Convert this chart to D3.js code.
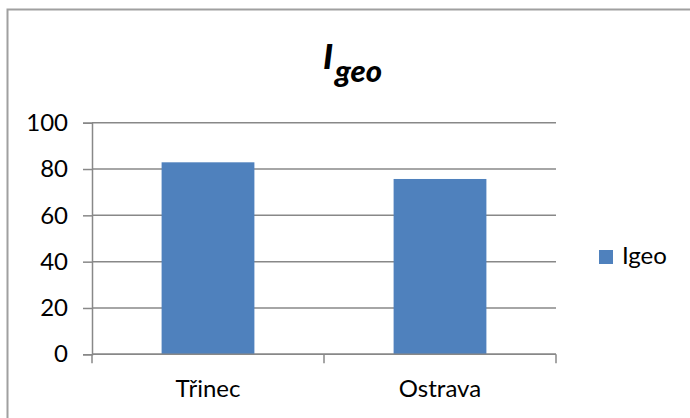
<!DOCTYPE html>
<html>
<head>
<meta charset="utf-8">
<script src="https://cdn.jsdelivr.net/npm/d3@7"></script>
<style>
  html, body { margin: 0; padding: 0; background: #fff; }
  svg { display: block; font-family: Lato, "Open Sans", sans-serif; }
</style>
</head>
<body>
<svg id="chart" width="690" height="418"></svg>
<script>
const categories = ["Třinec", "Ostrava"];
const values = [82.9, 75.7];
const seriesName = "Igeo";
const yTicks = [0, 20, 40, 60, 80, 100];

const svg = d3.select("#chart");
const plot = { left: 92, right: 556, top: 122.7, bottom: 354.3 };
const gray = "#888888";
const barColor = "#4F81BD";
const fontSize = 24;

// outer border
svg.append("rect")
  .attr("x", 7.5).attr("y", 9.5)
  .attr("width", 720).attr("height", 440)
  .attr("fill", "#fff").attr("stroke", "#a0a0a0").attr("stroke-width", 2);

const x = d3.scaleBand().domain(categories).range([plot.left, plot.right]).padding(0);
const y = d3.scaleLinear().domain([0, 100]).range([plot.bottom, plot.top]);

// gridlines
svg.append("g").selectAll("line").data(yTicks).join("line")
  .attr("x1", plot.left).attr("x2", plot.right)
  .attr("y1", d => y(d)).attr("y2", d => y(d))
  .attr("stroke", gray).attr("stroke-width", 1.5);

// y axis
const yAxis = svg.append("g")
  .attr("transform", `translate(${plot.left},0)`)
  .call(d3.axisLeft(y).tickValues(yTicks).tickSize(9).tickPadding(15).tickFormat(d3.format("d")));
yAxis.select(".domain").attr("stroke", gray).attr("stroke-width", 1.5);
yAxis.selectAll(".tick line").attr("stroke", gray).attr("stroke-width", 1.5);
yAxis.selectAll(".tick text").attr("font-size", fontSize).attr("fill", "#000")
  .attr("font-family", "Lato, sans-serif");

// bars
const barW = x.bandwidth() * 0.4;
svg.append("g").selectAll("rect").data(categories).join("rect")
  .attr("x", (d) => x(d) + (x.bandwidth() - barW) / 2)
  .attr("width", barW)
  .attr("y", (d, i) => y(values[i]))
  .attr("height", (d, i) => y(0) - y(values[i]))
  .attr("fill", barColor);

// x axis
const xAxisG = svg.append("g").attr("transform", `translate(0,${plot.bottom})`);
xAxisG.append("line")
  .attr("x1", plot.left).attr("x2", plot.right)
  .attr("stroke", gray).attr("stroke-width", 1.5);
const xTickPos = [plot.left, ...categories.map(c => x(c) + x.bandwidth())];
xAxisG.selectAll(".xt").data(xTickPos).join("line")
  .attr("class", "xt")
  .attr("x1", d => d).attr("x2", d => d)
  .attr("y1", 0).attr("y2", 9)
  .attr("stroke", gray).attr("stroke-width", 1.5);
xAxisG.selectAll("text").data(categories).join("text")
  .attr("x", d => x(d) + x.bandwidth() / 2)
  .attr("y", 43)
  .attr("text-anchor", "middle")
  .attr("font-size", fontSize)
  .attr("fill", "#000")
  .text(d => d);

// title
const title = svg.append("text")
  .attr("x", 323).attr("y", 69)
  .attr("text-anchor", "start")
  .attr("font-weight", "900").attr("font-style", "italic")
  .attr("fill", "#000");
title.append("tspan").attr("font-size", 35).text("I");
title.append("tspan").attr("font-size", 31).attr("dy", 13).attr("dx", 2).text("geo");

// legend
const lg = svg.append("g").attr("transform", "translate(599,250)");
lg.append("rect").attr("width", 14).attr("height", 14).attr("fill", barColor);
lg.append("text").attr("x", 23).attr("y", 14)
  .attr("font-size", fontSize).attr("fill", "#000").text(seriesName);
</script>
</body>
</html>
